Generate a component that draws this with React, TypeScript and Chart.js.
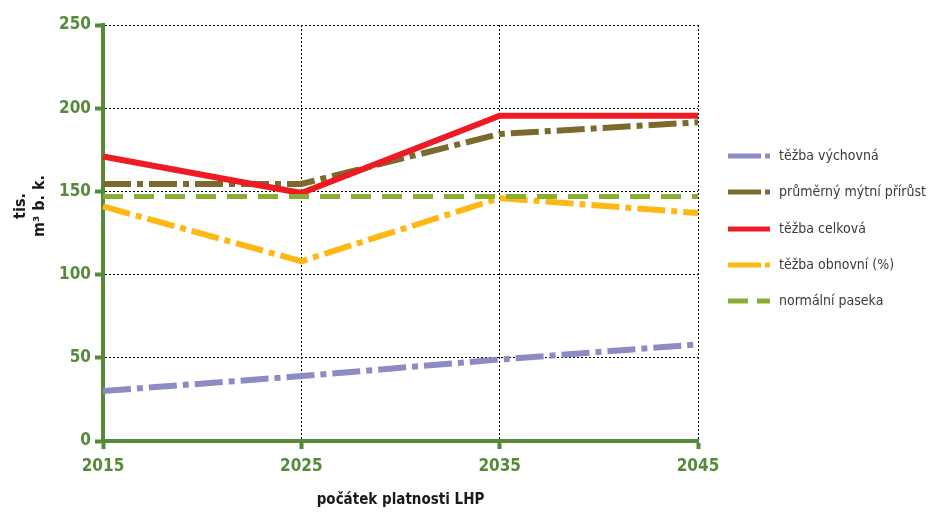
import React, { useEffect, useRef } from "react";
import { Chart, registerables } from "chart.js";

Chart.register(...registerables);

const years = ["2015", "2025", "2035", "2045"];
const tezbaVychovna = [30, 39, 49, 58];
const prumernyPrirust = [154.5, 154.5, 184.5, 191.5];
const tezbaCelkova = [171, 149, 195.5, 195.5];
const tezbaObnovni = [141, 108, 146, 137];
const normalniPaseka = [147, 147, 147, 147];

const seriesNames = [
  "těžba výchovná",
  "průměrný mýtní přírůst",
  "těžba celková",
  "těžba obnovní (%)",
  "normální paseka",
];
const yTitle = ["tis.", "m³ b. k."];
const xTitle = "počátek platnosti LHP";

const FONT = "'Liberation Sans Narrow', 'DejaVu Sans Condensed', 'Roboto Condensed', sans-serif";
const AXIS_GREEN = "#558a3b";

const overlayPlugin = {
  id: "overlay",
  afterDraw(chart: any) {
    const ctx = chart.ctx;
    const area = chart.chartArea;
    // y axis title
    ctx.save();
    ctx.fillStyle = "#1a1a1a";
    ctx.font = `bold 16px ${FONT}`;
    ctx.textAlign = "center";
    ctx.textBaseline = "middle";
    const cy = 206;
    [21, 40].forEach((x, i) => {
      ctx.save();
      ctx.translate(x, cy);
      ctx.rotate(-Math.PI / 2);
      ctx.fillText(yTitle[i], 0, 0);
      ctx.restore();
    });
    ctx.restore();

    // legend
    const lx = area.right + 30;
    const rows = [156, 192, 229, 265, 301];
    ctx.save();
    chart.data.datasets.forEach((ds: any, i: number) => {
      const y = rows[i];
      ctx.strokeStyle = ds.borderColor;
      ctx.lineWidth = 5;
      ctx.lineCap = "butt";
      const d = ds.borderDash || [];
      if (d.length === 4) ctx.setLineDash([33, 4, 5, 100]);
      else if (d.length === 2) ctx.setLineDash([20, 9, 13, 100]);
      else ctx.setLineDash([]);
      ctx.beginPath();
      ctx.moveTo(lx, y);
      ctx.lineTo(lx + 42, y);
      ctx.stroke();
      ctx.setLineDash([]);
      ctx.fillStyle = "#3a3a3a";
      ctx.font = `14px ${FONT}`;
      ctx.textAlign = "left";
      ctx.textBaseline = "middle";
      ctx.fillText(ds.label, lx + 51, y);
    });
    ctx.restore();
  },
};

export default function App() {
  const ref = useRef<HTMLCanvasElement>(null);
  useEffect(() => {
    if (!ref.current) return;
    const mk = (label: string, data: number[], color: string, dash: number[], width: number, order: number) => ({
      label,
      data,
      borderColor: color,
      backgroundColor: color,
      borderDash: dash,
      borderWidth: width,
      borderCapStyle: "butt",
      pointRadius: 0,
      tension: 0,
      fill: false,
      order,
    });
    const chart = new Chart(ref.current, {
      type: "line",
      data: {
        labels: years,
        datasets: [
          mk(seriesNames[0], tezbaVychovna, "#8d8bc3", [28, 6, 6, 6], 6, 4),
          mk(seriesNames[1], prumernyPrirust, "#7a6a2c", [28, 6, 6, 6], 6, 2),
          mk(seriesNames[2], tezbaCelkova, "#ed1c24", [], 6, 1),
          mk(seriesNames[3], tezbaObnovni, "#fdb813", [28, 6, 6, 6], 6, 3),
          mk(seriesNames[4], normalniPaseka, "#8aae30", [20, 11], 5, 0),
        ] as any,
      },
      options: {
        animation: false,
        responsive: true,
        maintainAspectRatio: false,
        layout: { padding: { top: 25, right: 235, left: 0, bottom: 0 } },
        plugins: { legend: { display: false }, tooltip: { enabled: false } },
        scales: {
          x: {
            type: "category",
            offset: false,
            afterFit: (s: any) => {
              s.height = 73;
            },
            grid: {
              color: "#000",
              lineWidth: 1,
              drawTicks: true,
              tickLength: 8,
              tickColor: AXIS_GREEN,
              tickWidth: 4,
            },
            border: { display: true, color: AXIS_GREEN, width: 4, dash: [2, 2] },
            ticks: {
              color: AXIS_GREEN,
              font: { family: FONT, size: 17, weight: "bold" },
              padding: 7,
              maxRotation: 0,
            },
            title: {
              display: true,
              text: xTitle,
              color: "#1a1a1a",
              font: { family: FONT, size: 15, weight: "bold" },
              padding: { top: 0, bottom: 5 },
            },
          },
          y: {
            min: 0,
            max: 250,
            afterFit: (s: any) => {
              s.width = 103;
            },
            grid: {
              color: "#000",
              lineWidth: 1,
              drawTicks: true,
              tickLength: 8,
              tickColor: AXIS_GREEN,
              tickWidth: 4,
            },
            border: { display: true, color: AXIS_GREEN, width: 4, dash: [2, 2] },
            ticks: {
              stepSize: 50,
              color: AXIS_GREEN,
              font: { family: FONT, size: 17, weight: "bold" },
              padding: 4,
            },
          },
        },
      } as any,
      plugins: [overlayPlugin],
    });
    return () => chart.destroy();
  }, []);
  return (
    <div style={{ position: "fixed", left: 0, top: 0, width: 933, height: 514, background: "#fff" }}>
      <canvas ref={ref} />
    </div>
  );
}
